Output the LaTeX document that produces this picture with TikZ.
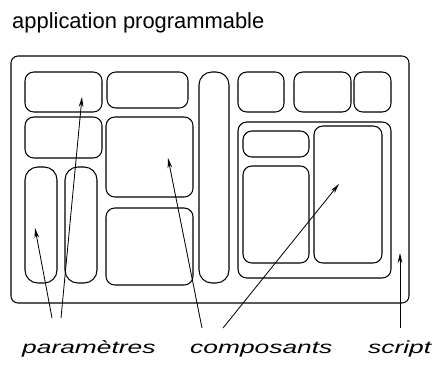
\documentclass[tikz,border=0pt]{standalone}
\usepackage{fontspec}
\setmainfont{Liberation Sans}
\newfontfamily\tagfont[FakeStretch=1.5]{Liberation Sans}
\usetikzlibrary{arrows.meta,fit}

\begin{document}
\begin{tikzpicture}[
  x=0.03cm, y=-0.03cm,
  frame/.style={draw=black, rounded corners=6pt, line width=0.9pt, inner sep=0pt},
  cell/.style={draw=black, rounded corners=7.5pt, line width=0.9pt, inner sep=0pt},
  pill/.style={cell, rounded corners=11pt},
  caption/.style={font=\fontsize{18.7}{22}\selectfont, anchor=base west, inner sep=0pt},
  tag/.style={font=\tagfont\itshape\fontsize{15}{18}\selectfont, anchor=base west, inner sep=0pt},
  pointer/.style={-{Stealth[length=3mm, width=1.4mm]}, draw=black, line width=0.7pt}
]
  \useasboundingbox (0,0) rectangle (432,365);

  \node[caption] (title) at (12,28) {application programmable};

  % the application window
  \node[frame, fit={(11,56) (409,303)}] (appli) {};

  % top row
  \node[cell, fit={(25,72) (102,112)}] (parA) {};
  \node[cell, fit={(107,72) (188,108)}] (compB) {};
  \node[pill, fit={(199,72) (229,283)}] (barre) {};
  \node[cell, fit={(238,72) (284,112)}] (compC) {};
  \node[cell, fit={(294,72) (351,112)}] (compD) {};
  \node[cell, fit={(354,72) (391,112)}] (compE) {};

  % left block
  \node[cell, fit={(25,117) (102,158)}] (parF) {};
  \node[pill, fit={(25,167) (57,283)}] (parI) {};
  \node[pill, fit={(65,167) (97,283)}] (parJ) {};

  % middle block
  \node[cell, fit={(106,117) (193,197)}] (compG) {};
  \node[cell, fit={(106,208) (193,285)}] (compH) {};

  % right group
  \node[cell, fit={(238,122) (391,278)}] (groupe) {};
  \node[cell, fit={(243,131) (309,157)}] (compK) {};
  \node[cell, fit={(243,166) (309,263)}] (compL) {};
  \node[cell, fit={(314,126) (382,263)}] (compM) {};

  % labels
  \node[tag] (parametres) at (22,353) {paramètres};
  \node[tag] (composants) at (190,353) {composants};
  \node[tag] (script) at (368,353) {script};

  % arrow ends
  \coordinate (p1from) at (52,318);
  \coordinate (p1to) at (35,228);
  \coordinate (p2from) at (61,318);
  \coordinate (p2to) at (82,97);
  \coordinate (c1from) at (202,328);
  \coordinate (c1to) at (168,158);
  \coordinate (c2from) at (223,328);
  \coordinate (c2to) at (339,184);
  \coordinate (s1from) at (400,328);
  \coordinate (s1to) at (400,253);

  \draw[pointer] (p1from) -- (p1to);
  \draw[pointer] (p2from) -- (p2to);
  \draw[pointer] (c1from) -- (c1to);
  \draw[pointer] (c2from) -- (c2to);
  \draw[pointer] (s1from) -- (s1to);
\end{tikzpicture}
\end{document}
